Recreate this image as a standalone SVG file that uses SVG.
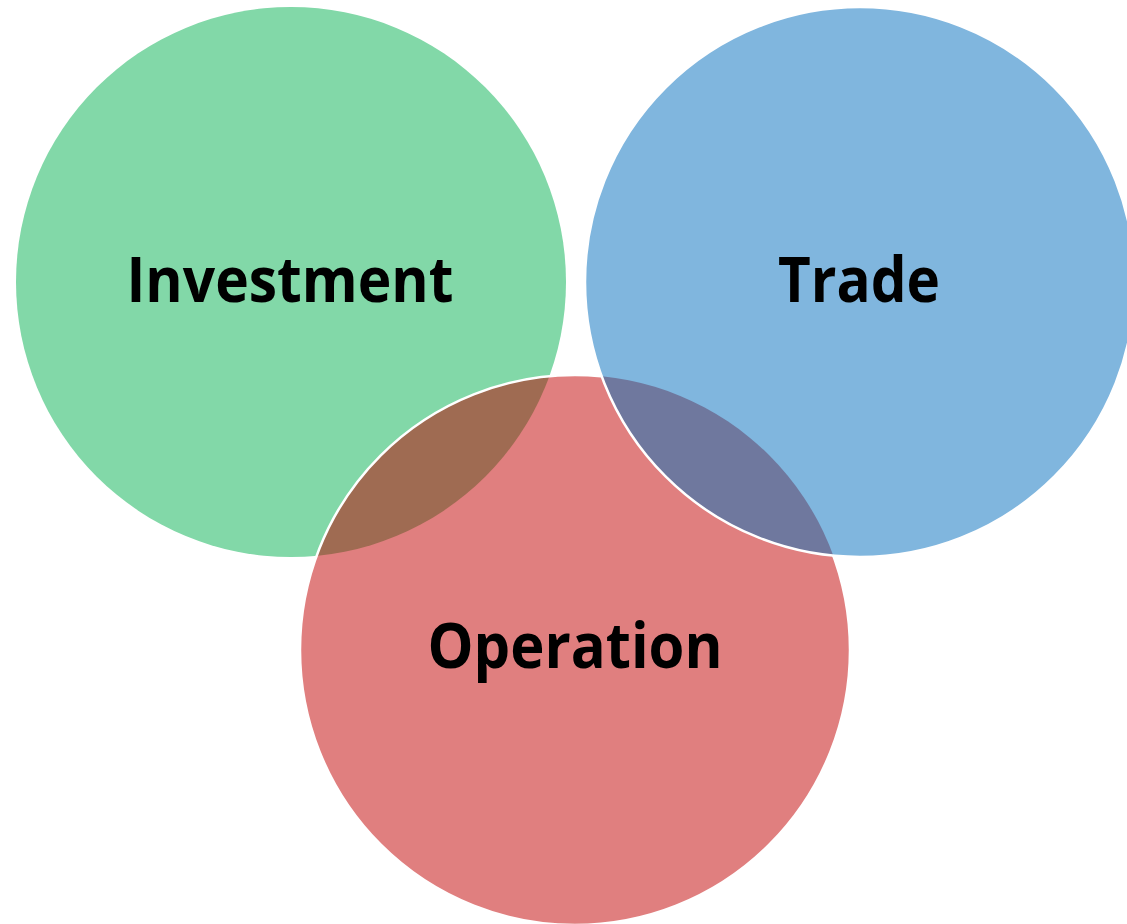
<svg xmlns="http://www.w3.org/2000/svg" width="1127" height="924" viewBox="0 0 1127 924">
  <style>
    .lbl { font-family: "Open Sans", "Liberation Sans", sans-serif; font-weight: 700; font-size: 62px; fill: #000; text-anchor: middle; }
    .edge { fill: none; stroke: #FFFFFF; stroke-width: 2.5; }
  </style>
  <defs>
    <clipPath id="clipRed"><circle cx="575" cy="650" r="275"/></clipPath>
  </defs>
  <rect width="1127" height="924" fill="#FFFFFF"/>
  <g id="investment">
    <circle cx="291" cy="282" r="275" fill="#82D8A8"/>
  </g>
  <g id="operation">
    <circle cx="575" cy="650" r="275" fill="#E07F7F"/>
    <circle cx="291" cy="282" r="275" fill="#9F6B52" clip-path="url(#clipRed)"/>
    <circle class="edge" cx="575" cy="650" r="275"/>
  </g>
  <g id="trade">
    <circle cx="860" cy="282" r="275" fill="#80B6DE"/>
    <circle cx="860" cy="282" r="275" fill="#6F789E" clip-path="url(#clipRed)"/>
    <circle class="edge" cx="860" cy="282" r="275"/>
  </g>
  <g id="connectors"></g>
  <g id="labels">
    <text class="lbl" x="290" y="302" textLength="327" lengthAdjust="spacingAndGlyphs">Investment</text>
    <text class="lbl" x="859" y="302" textLength="162" lengthAdjust="spacingAndGlyphs">Trade</text>
    <text class="lbl" x="575" y="668" textLength="295" lengthAdjust="spacingAndGlyphs">Operation</text>
  </g>
</svg>
